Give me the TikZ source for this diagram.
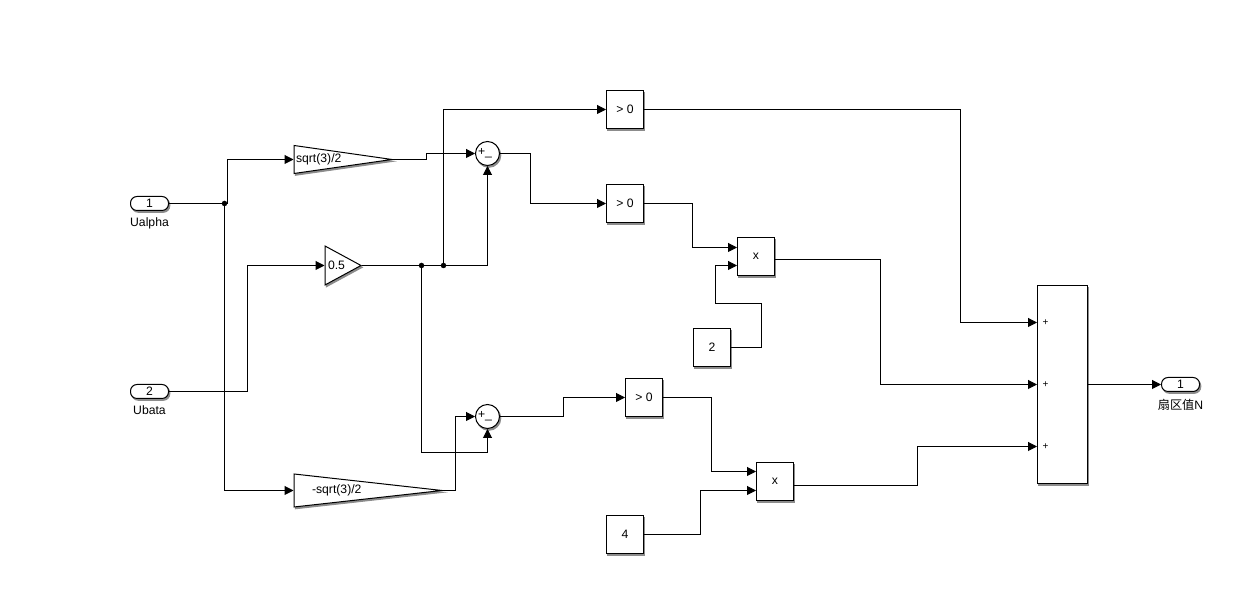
\documentclass[tikz,border=0pt]{standalone}
\usepackage{fontspec}
\setmainfont{Liberation Sans}
\newfontfamily\cjk{Noto Sans CJK SC}
\usetikzlibrary{
  arrows.meta,
  positioning,
  shadows,
  shapes.geometric
}

\begin{document}
\begin{tikzpicture}[
            x=1pt, y=1pt,
            node distance=100pt,
            font=\fontsize{12.2}{14}\selectfont,
            % Stili dei blocchi
            blockshadow/.style={copy shadow={shadow xshift=1.3pt, shadow yshift=-1.8pt, fill=black!45, draw=black!45}},
            port/.style={rectangle, rounded corners=6.5pt, minimum width=38pt, minimum height=14pt, inner sep=0pt, draw=black, fill=white, line width=1pt, blockshadow},
            block/.style={rectangle, minimum width=37pt, minimum height=38pt, inner sep=0pt, text centered, draw=black, fill=white, line width=1pt, blockshadow},
            gain/.style={isosceles triangle, isosceles triangle stretches, inner sep=0pt, draw=black, fill=white, line width=1pt, blockshadow},
            sumblock/.style={circle, minimum size=24pt, inner sep=0pt, draw=black, fill=white, line width=1pt, blockshadow},
            dot/.style={circle, fill=black, minimum size=5.5pt, inner sep=0pt},
            arrow/.style={line width=1pt, -{Triangle[length=9pt,width=9pt]}},
            wire/.style={line width=1pt}
        ]
        \useasboundingbox (0,0) rectangle (1251,609);

        % Ingressi
        \node (in1) [port] at (149.5,405.5) {1};
        \node (in2) [port, below of=in1, yshift=-88pt] {2};
        \node (lab1) [below=3.5pt of in1] {Ualpha};
        \node (lab2) [below=3.5pt of in2] {Ubata};
        \node (j1) [dot, right of=in1, xshift=-25pt] {};

        % Guadagni
        \node (g1) [gain, minimum width=28pt, minimum height=98pt, right of=in1, xshift=44pt, yshift=44pt, anchor=lower side] {};
        \node (g2) [gain, minimum width=39pt, minimum height=36pt, right of=in2, xshift=75pt, yshift=126pt, anchor=lower side] {};
        \node (g3) [gain, minimum width=33pt, minimum height=148pt, right of=in2, xshift=44pt, yshift=-99pt, anchor=lower side] {};
        \node (t1) [right=-1pt of g1.lower side] {sqrt(3)/2};
        \node (t2) [right=0pt of g2.lower side] {0.5};
        \node (t3) [right=15pt of g3.lower side] {-sqrt(3)/2};

        % Sommatori
        \node (sum1) [sumblock, right of=in1, xshift=238pt, yshift=50pt] {\hspace*{-5pt}+\_};
        \node (sum2) [sumblock, below of=sum1, yshift=-163pt] {\hspace*{-5pt}+\_};
        \node (j3) [dot, below of=sum1, xshift=-44pt, yshift=-12pt] {};
        \node (j2) [dot, left of=j3, xshift=78pt] {};

        % Ramo superiore
        \node (box1) [block, right of=sum1, xshift=37.5pt, yshift=44pt] {> 0};
        \node (box2) [block, below of=box1, yshift=6pt] {> 0};
        \node (prod1) [block, right of=box2, xshift=31pt, yshift=-53pt] {x};
        \node (const2) [block, below of=prod1, xshift=-44pt, yshift=9pt] {2};

        % Ramo inferiore
        \node (box3) [block, right of=sum2, xshift=56.5pt, yshift=19pt] {> 0};
        \node (prod2) [block, right of=box3, xshift=31pt, yshift=-84pt] {x};
        \node (const4) [block, below of=box3, xshift=-19pt, yshift=-37pt] {4};

        % Uscita
        \node (bigsum) [block, minimum width=50pt, minimum height=198pt, right of=prod1, xshift=206.5pt, yshift=-128pt] {};
        \coordinate (p1) at ([yshift=62pt]bigsum.west);
        \coordinate (p3) at ([yshift=-62pt]bigsum.west);
        \node (s1) [right=2pt of p1] {\fontsize{10}{12}\selectfont +};
        \node (s2) [right=2pt of bigsum.west] {\fontsize{10}{12}\selectfont +};
        \node (s3) [right=2pt of p3] {\fontsize{10}{12}\selectfont +};
        \node (out) [port, right of=bigsum, xshift=18pt] {1};
        \node (lab3) [below=3.5pt of out] {{\cjk 扇区值}N};

        % Collegamenti
        \draw [wire] (in1) -- (j1);
        \draw [arrow] (j1) -- ++(3,0) |- (g1.lower side);
        \draw [arrow] (j1) |- (g3.lower side);
        \draw [arrow] (in2.east) -- ++(78,0) |- (g2.lower side);
        \draw [wire] (g2.apex) -- (j2) -- (j3);
        \draw [arrow] (j3) -| (sum1);
        \draw [arrow] (j3) |- (box1);
        \draw [arrow] (j2) -- ++(0,-187) -| (sum2);
        \draw [arrow] (g1.apex) -- ++(33.5,0) |- (sum1);
        \draw [arrow] (g3.apex) -- ++(12.5,0) |- (sum2);
        \draw [arrow] (sum1.east) -- ++(30,0) |- (box2);
        \draw [arrow] (sum2.east) -- ++(63,0) |- (box3);

        \draw [arrow] (box1.east) -- ++(316,0) |- (p1);
        \draw [arrow] (box2.east) -- ++(48,0) |- ([yshift=9pt]prod1.west);
        \draw [arrow] (const2.east) -- ++(30,0) -- ++(0,44) -- ++(-46,0) |- ([yshift=-9pt]prod1.west);
        \draw [arrow] ([yshift=-3pt]prod1.east) -- ++(105,0) |- (bigsum.west);
        \draw [arrow] (box3.east) -- ++(48,0) |- ([yshift=10pt]prod2.west);
        \draw [arrow] (const4.east) -- ++(56,0) |- ([yshift=-9pt]prod2.west);
        \draw [arrow] ([yshift=-4pt]prod2.east) -- ++(123,0) |- (p3);
        \draw [arrow] (bigsum) -- (out);

    \end{tikzpicture}
\end{document}
